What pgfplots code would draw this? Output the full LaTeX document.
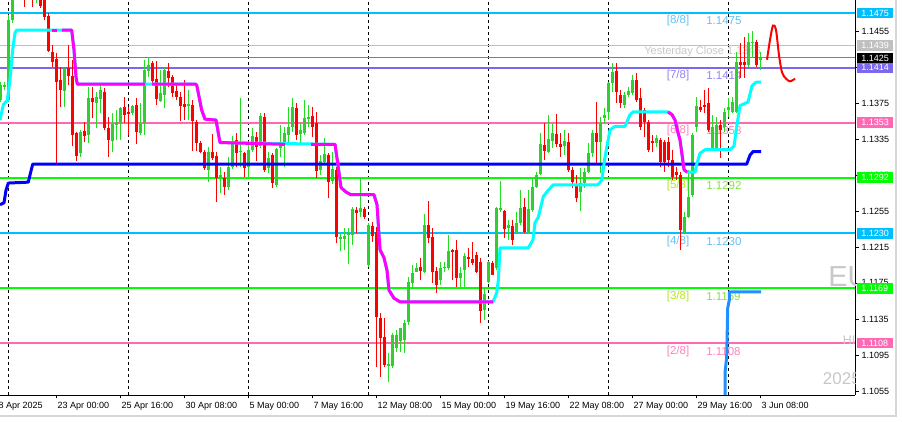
\documentclass[border=0pt]{standalone}
\usepackage{fontspec}
\setmainfont{Liberation Sans}
\usepackage{pgfplots}
\usepackage{pgfplotstable}
\pgfplotsset{compat=1.18}

\definecolor{upbody}{RGB}{50,205,50}
\definecolor{upwick}{RGB}{34,221,34}
\definecolor{dnred}{RGB}{255,0,0}
\definecolor{lvlblue}{RGB}{0,191,255}
\definecolor{lvlpurple}{RGB}{123,104,238}
\definecolor{lvlpink}{RGB}{255,105,180}
\definecolor{lvlgreen}{RGB}{0,255,0}
\definecolor{txtblue}{RGB}{100,195,245}
\definecolor{txtpurple}{RGB}{150,130,240}
\definecolor{txtpink}{RGB}{255,130,190}
\definecolor{txtyg}{RGB}{180,230,30}
\definecolor{txtgreen}{RGB}{130,230,60}
\definecolor{wm}{RGB}{200,200,200}
\definecolor{framegray}{RGB}{215,215,215}
\definecolor{dodger}{RGB}{30,144,255}
\definecolor{aqua}{RGB}{0,255,255}
\definecolor{fuchsia}{RGB}{255,0,255}
\definecolor{trendblue}{RGB}{0,0,255}
\definecolor{silverline}{RGB}{192,192,192}
\definecolor{bidgray}{RGB}{128,128,128}

% H4 bars: k o h l c
\pgfplotstableread{
k o h l c
0 1.1378 1.1398 1.1376 1.1395
1 1.1393 1.1398 1.1389 1.1395
2 1.1378 1.1473 1.1376 1.1467
3 1.1467 1.1523 1.1464 1.1512
4 1.1512 1.1567 1.1506 1.1556
5 1.1545 1.1556 1.1500 1.1517
6 1.1534 1.1550 1.1482 1.1495
7 1.1500 1.1545 1.1495 1.1539
8 1.1523 1.1534 1.1482 1.1495
9 1.1495 1.1528 1.1486 1.1517
10 1.1512 1.1523 1.1481 1.1483
11 1.1500 1.1506 1.1467 1.1470
12 1.1472 1.1475 1.1432 1.1433
13 1.1432 1.1439 1.1415 1.1421
14 1.1424 1.1430 1.1308 1.1398
15 1.1401 1.1415 1.1371 1.1389
16 1.1388 1.1414 1.1371 1.1413
17 1.1414 1.1439 1.1395 1.1405
18 1.1405 1.1423 1.1327 1.1339
19 1.1342 1.1343 1.1311 1.1316
20 1.1319 1.1345 1.1315 1.1343
21 1.1344 1.1354 1.1332 1.1338
22 1.1339 1.1393 1.1331 1.1381
23 1.1381 1.1393 1.1358 1.1376
24 1.1375 1.1387 1.1347 1.1382
25 1.1379 1.1395 1.1364 1.1389
26 1.1387 1.1392 1.1345 1.1347
27 1.1347 1.1359 1.1315 1.1334
28 1.1333 1.1364 1.1321 1.1352
29 1.1351 1.1367 1.1334 1.1354
30 1.1352 1.1371 1.1334 1.1369
31 1.1371 1.1382 1.1353 1.1362
32 1.1365 1.1371 1.1339 1.1363
33 1.1364 1.1373 1.1362 1.1372
34 1.1373 1.1381 1.1329 1.1343
35 1.1342 1.1375 1.1339 1.1352
36 1.1352 1.1423 1.1339 1.1412
37 1.1411 1.1426 1.1404 1.1417
38 1.1419 1.1422 1.1397 1.1399
39 1.1402 1.1422 1.1373 1.1379
40 1.1377 1.1412 1.1376 1.1386
41 1.1384 1.1414 1.1369 1.1412
42 1.1411 1.1419 1.1393 1.1403
43 1.1404 1.1406 1.1382 1.1386
44 1.1388 1.1397 1.1378 1.1382
45 1.1382 1.1387 1.1355 1.1372
46 1.1374 1.1401 1.1356 1.1371
47 1.1372 1.1389 1.1356 1.1374
48 1.1373 1.1378 1.1322 1.1355
49 1.1354 1.1356 1.1322 1.1331
50 1.1331 1.1333 1.1319 1.1321
51 1.1321 1.1323 1.1301 1.1303
52 1.1301 1.1326 1.1287 1.1321
53 1.1321 1.1341 1.1312 1.1314
54 1.1316 1.1321 1.1265 1.1292
55 1.1291 1.1304 1.1275 1.1295
56 1.1292 1.1298 1.1273 1.1282
57 1.1282 1.1315 1.1278 1.1304
58 1.1304 1.1338 1.1302 1.1333
59 1.1334 1.1342 1.1304 1.1319
60 1.1321 1.1381 1.1304 1.1322
61 1.1319 1.1321 1.1293 1.1303
62 1.1304 1.1332 1.1293 1.1323
63 1.1323 1.1347 1.1321 1.1338
64 1.1337 1.1343 1.1311 1.1326
65 1.1327 1.1364 1.1325 1.1361
66 1.1359 1.1364 1.1298 1.1301
67 1.1303 1.1321 1.1297 1.1314
68 1.1317 1.1319 1.1281 1.1286
69 1.1284 1.1325 1.1282 1.1324
70 1.1325 1.1351 1.1315 1.1328
71 1.1328 1.1348 1.1304 1.1342
72 1.1339 1.1371 1.1332 1.1348
73 1.1348 1.1381 1.1343 1.1371
74 1.1369 1.1375 1.1334 1.1339
75 1.1341 1.1353 1.1328 1.1345
76 1.1342 1.1378 1.1339 1.1358
77 1.1357 1.1373 1.1348 1.1359
78 1.1361 1.1371 1.1337 1.1348
79 1.1353 1.1365 1.1292 1.1299
80 1.1301 1.1317 1.1295 1.1311
81 1.1309 1.1336 1.1308 1.1318
82 1.1317 1.1319 1.1269 1.1287
83 1.1288 1.1321 1.1285 1.1302
84 1.1301 1.1304 1.1219 1.1226
85 1.1224 1.1231 1.1211 1.1226
86 1.1224 1.1236 1.1212 1.1227
87 1.1228 1.1236 1.1196 1.1229
88 1.1228 1.1259 1.1217 1.1257
89 1.1256 1.1259 1.1231 1.1253
90 1.1254 1.1293 1.1248 1.1258
91 1.1257 1.1259 1.1246 1.1248
92 1.1195 1.1242 1.1193 1.1239
93 1.1238 1.1243 1.1221 1.1227
94 1.1232 1.1237 1.1082 1.1137
95 1.1136 1.1142 1.1071 1.1114
96 1.1115 1.1136 1.1082 1.1084
97 1.1083 1.1097 1.1065 1.1085
98 1.1083 1.1119 1.1081 1.1117
99 1.1103 1.1123 1.1098 1.1117
100 1.1111 1.1125 1.1098 1.1125
101 1.1112 1.1134 1.1097 1.1131
102 1.1132 1.1182 1.1128 1.1176
103 1.1175 1.1195 1.1168 1.1186
104 1.1187 1.1197 1.1187 1.1192
105 1.1193 1.1203 1.1178 1.1188
106 1.1187 1.1252 1.1186 1.1239
107 1.1239 1.1266 1.1219 1.1225
108 1.1226 1.1236 1.1175 1.1187
109 1.1188 1.1193 1.1164 1.1173
110 1.1178 1.1198 1.1173 1.1192
111 1.1192 1.1198 1.1187 1.1193
112 1.1192 1.1228 1.1189 1.1211
113 1.1212 1.1213 1.1178 1.1209
114 1.1212 1.1223 1.1171 1.1181
115 1.1181 1.1193 1.1171 1.1186
116 1.1189 1.1208 1.1171 1.1205
117 1.1204 1.1214 1.1193 1.1202
118 1.1202 1.1221 1.1195 1.1197
119 1.1206 1.1209 1.1186 1.1187
120 1.1198 1.1203 1.1131 1.1144
121 1.1145 1.1169 1.1134 1.1163
122 1.1176 1.1199 1.1175 1.1198
123 1.1197 1.1199 1.1184 1.1184
124 1.1192 1.1259 1.1189 1.1258
125 1.1256 1.1288 1.1254 1.1258
126 1.1255 1.1256 1.1225 1.1235
127 1.1236 1.1245 1.1223 1.1239
128 1.1238 1.1245 1.1217 1.1223
129 1.1231 1.1254 1.1229 1.1242
130 1.1242 1.1278 1.1239 1.1258
131 1.1259 1.1269 1.1231 1.1232
132 1.1232 1.1278 1.1231 1.1257
133 1.1256 1.1291 1.1254 1.1282
134 1.1282 1.1298 1.1281 1.1295
135 1.1296 1.1342 1.1295 1.1329
136 1.1328 1.1353 1.1312 1.1322
137 1.1321 1.1362 1.1319 1.1335
138 1.1333 1.1353 1.1325 1.1342
139 1.1341 1.1363 1.1326 1.1329
140 1.1329 1.1342 1.1315 1.1326
141 1.1327 1.1345 1.1317 1.1333
142 1.1332 1.1342 1.1298 1.1301
143 1.1301 1.1304 1.1281 1.1287
144 1.1284 1.1295 1.1265 1.1269
145 1.1276 1.1303 1.1255 1.1286
146 1.1286 1.1303 1.1281 1.1298
147 1.1298 1.1331 1.1297 1.1319
148 1.1319 1.1345 1.1315 1.1342
149 1.1342 1.1376 1.1308 1.1332
150 1.1332 1.1359 1.1297 1.1353
151 1.1358 1.1369 1.1353 1.1362
152 1.1365 1.1398 1.1356 1.1397
153 1.1397 1.1419 1.1387 1.1409
154 1.1411 1.1419 1.1375 1.1387
155 1.1384 1.1389 1.1369 1.1375
156 1.1373 1.1387 1.1369 1.1384
157 1.1384 1.1393 1.1382 1.1388
158 1.1386 1.1406 1.1384 1.1401
159 1.1401 1.1408 1.1376 1.1378
160 1.1381 1.1392 1.1345 1.1348
161 1.1367 1.1369 1.1337 1.1354
162 1.1354 1.1356 1.1321 1.1323
163 1.1333 1.1339 1.1321 1.1331
164 1.1331 1.1339 1.1326 1.1336
165 1.1334 1.1336 1.1304 1.1309
166 1.1332 1.1334 1.1298 1.1309
167 1.1332 1.1337 1.1304 1.1312
168 1.1312 1.1323 1.1289 1.1293
169 1.1298 1.1304 1.1289 1.1295
170 1.1295 1.1298 1.1212 1.1234
171 1.1232 1.1254 1.1231 1.1248
172 1.1248 1.1301 1.1247 1.1271
173 1.1273 1.1342 1.1271 1.1339
174 1.1348 1.1382 1.1343 1.1372
175 1.1371 1.1378 1.1365 1.1367
176 1.1373 1.1389 1.1364 1.1371
177 1.1375 1.1392 1.1343 1.1345
178 1.1325 1.1362 1.1323 1.1348
179 1.1323 1.1359 1.1323 1.1351
180 1.1351 1.1356 1.1314 1.1345
181 1.1348 1.1369 1.1343 1.1365
182 1.1367 1.1381 1.1359 1.1371
183 1.1365 1.1382 1.1364 1.1376
184 1.1365 1.1432 1.1364 1.1421
185 1.1421 1.1442 1.1403 1.1417
186 1.1421 1.1448 1.1403 1.1417
187 1.1417 1.1453 1.1415 1.1443
188 1.1442 1.1455 1.1425 1.1443
189 1.1443 1.1445 1.1415 1.1417
190 1.1423 1.1432 1.1412 1.1425
}\bars

\begin{document}
\begin{tikzpicture}
\fill[white] (0pt,0pt) rectangle (902pt,422pt);
\path[use as bounding box] (0pt,0pt) rectangle (902pt,422pt);
\draw[framegray, line width=1.5pt] (896pt,422pt) -- (896pt,6pt) -- (0pt,6pt);
\begin{axis}[
    at={(0pt,27pt)}, anchor=south west,
    scale only axis, width=855pt, height=395pt,
    xmin=-0.125, xmax=213.625,
    ymin=1.10505, ymax=1.14894,
    axis x line=bottom, axis y line=right,
    axis line style={-, black, line width=0.8pt},
    every outer x axis line/.append style={-},
    every outer y axis line/.append style={-},
    tick align=outside, major tick length=3.5pt,
    tick style={black, line width=0.8pt},
    tick label style={font=\fontsize{9}{10}\selectfont},
    xtick={14,30,...,190},
    xticklabels={23 Apr 00:00, 25 Apr 16:00, 30 Apr 08:00, 5 May 00:00,
        7 May 16:00, 12 May 08:00, 15 May 00:00, 19 May 16:00,
        22 May 08:00, 27 May 00:00, 29 May 16:00, 3 Jun 08:00},
    xticklabel style={anchor=north west, inner sep=0pt, xshift=1pt, yshift=-4pt},
    extra x ticks={2,32,...,182},
    extra x tick labels={},
    extra x tick style={grid=major, major tick length=0pt,
        major grid style={black, line width=0.8pt, dash pattern=on 3pt off 3pt}},
    ytick={1.1055,1.1095,1.1135,1.1175,1.1215,1.1255,1.1295,1.1335,1.1375,1.1415,1.1455},
    scaled y ticks=false,
    yticklabel style={anchor=west, inner sep=0pt, xshift=3pt,
        /pgf/number format/.cd, fixed, fixed zerofill, precision=4, assume math mode=true},
]
% level lines
\addplot[lvlblue, line width=2pt] coordinates {(-0.125,1.1475) (213.625,1.1475)};
\addplot[silverline, line width=1pt] coordinates {(-0.125,1.1439) (213.625,1.1439)};
\addplot[bidgray, line width=1pt] coordinates {(-0.125,1.1425) (213.625,1.1425)};
\addplot[lvlpurple, line width=2pt] coordinates {(-0.125,1.1414) (213.625,1.1414)};
\addplot[lvlpink, line width=2pt] coordinates {(-0.125,1.1353) (213.625,1.1353)};
\addplot[lvlgreen, line width=2pt] coordinates {(-0.125,1.1292) (213.625,1.1292)};
\addplot[lvlblue, line width=2pt] coordinates {(-0.125,1.1230) (213.625,1.1230)};
\addplot[lvlgreen, line width=2pt] coordinates {(-0.125,1.1169) (213.625,1.1169)};
\addplot[lvlpink, line width=2pt] coordinates {(-0.125,1.1108) (213.625,1.1108)};

\coordinate (L8) at (axis cs:213.625,1.1475);
\coordinate (LY) at (axis cs:213.625,1.1439);
\coordinate (LB) at (axis cs:213.625,1.1425);
\coordinate (L7) at (axis cs:213.625,1.1414);
\coordinate (L6) at (axis cs:213.625,1.1353);
\coordinate (L5) at (axis cs:213.625,1.1292);
\coordinate (L4) at (axis cs:213.625,1.1230);
\coordinate (L3) at (axis cs:213.625,1.1169);
\coordinate (L2) at (axis cs:213.625,1.1108);
\coordinate (T0) at (axis cs:-2,1.10505);

% level texts and watermarks
\begin{scope}[every node/.style={anchor=west, inner sep=0pt, font=\fontsize{11.5}{12}\selectfont}]
\node[text=txtblue, yshift=-8pt] at (axis cs:166.55,1.1475) {[8/8]};
\node[text=txtblue, yshift=-8pt] at (axis cs:176.4,1.1475) {1.1475};
\node[text=txtpurple, yshift=-8pt] at (axis cs:166.55,1.1414) {[7/8]};
\node[text=txtpurple, yshift=-8pt] at (axis cs:176.4,1.1414) {1.1414};
\node[text=txtpink, yshift=-8pt] at (axis cs:166.55,1.1353) {[6/8]};
\node[text=txtpink, yshift=-8pt] at (axis cs:176.4,1.1353) {1.1353};
\node[text=txtyg, yshift=-8pt] at (axis cs:166.55,1.1292) {[5/8]};
\node[text=txtgreen, yshift=-8pt] at (axis cs:176.4,1.1292) {1.1292};
\node[text=txtblue, yshift=-8pt] at (axis cs:166.55,1.1230) {[4/8]};
\node[text=txtblue, yshift=-8pt] at (axis cs:176.4,1.1230) {1.1230};
\node[text=txtyg, yshift=-8pt] at (axis cs:166.55,1.1169) {[3/8]};
\node[text=txtgreen, yshift=-8pt] at (axis cs:176.4,1.1169) {1.1169};
\node[text=txtpink, yshift=-8pt] at (axis cs:166.55,1.1108) {[2/8]};
\node[text=txtpink, yshift=-8pt] at (axis cs:176.4,1.1108) {1.1108};
\node[text=wm, font=\fontsize{11}{12}\selectfont] at (axis cs:160.9,1.1432) {Yesterday Close 1.1346};
\node[text=wm, font=\fontsize{29}{30}\selectfont] at (axis cs:206.9,1.1180) {EURUSD,H4};
\node[text=wm, font=\fontsize{12.5}{13}\selectfont] at (axis cs:210.55,1.1111) {HIGH};
\node[text=wm, font=\fontsize{17}{18}\selectfont] at (axis cs:205.55,1.1069) {2025.06.03};
\end{scope}

% candles: wicks then bodies
\addplot[draw=none, mark=none, forget plot,
    restrict expr to domain={\thisrow{c}-\thisrow{o}}{0:1},
    error bars/.cd, y dir=plus, y explicit, error mark=none,
    error bar style={line width=1pt, draw=upwick, solid}]
    table[x=k, y=l, y error plus expr=\thisrow{h}-\thisrow{l}] {\bars};
\addplot[draw=none, mark=none, forget plot,
    restrict expr to domain={\thisrow{o}-\thisrow{c}}{0.00001:1},
    error bars/.cd, y dir=plus, y explicit, error mark=none,
    error bar style={line width=1pt, draw=dnred, solid}]
    table[x=k, y=l, y error plus expr=\thisrow{h}-\thisrow{l}] {\bars};
\addplot[draw=none, mark=none, forget plot,
    restrict expr to domain={\thisrow{c}-\thisrow{o}}{0:1},
    error bars/.cd, y dir=plus, y explicit, error mark=none,
    error bar style={line width=3pt, draw=upbody, solid}]
    table[x=k, y=o, y error plus expr={max(\thisrow{c}-\thisrow{o},0.00011)}] {\bars};
\addplot[draw=none, mark=none, forget plot,
    restrict expr to domain={\thisrow{o}-\thisrow{c}}{0.00001:1},
    error bars/.cd, y dir=plus, y explicit, error mark=none,
    error bar style={line width=3pt, draw=dnred, solid}]
    table[x=k, y=c, y error plus expr={max(\thisrow{o}-\thisrow{c},0.00011)}] {\bars};

% blue trend line
\addplot[trendblue, line width=3pt, line join=round] coordinates {
    (-0.125,1.1262) (0.875,1.1264) (1.375,1.1278) (1.95,1.1286) (6.95,1.1287)
    (7.375,1.1295) (8.05,1.1307) (186.55,1.1307) (187.375,1.1317)
    (188.125,1.1321) (190.125,1.1321)};
% aqua line
\addplot[aqua, line width=3pt, line join=round] coordinates {
    (-0.125,1.1356) (0.7,1.1373) (1.7,1.1378) (2.375,1.1401) (3.05,1.1434)
    (3.625,1.1453) (4.05,1.1456) (17.8,1.1456) (18.375,1.1434) (18.875,1.1404)
    (19.2,1.1396) (48.625,1.1396) (49.05,1.1395) (50.3,1.1367) (51.125,1.1357)
    (53.875,1.1356) (54.875,1.1331) (83.625,1.1329) (84.375,1.1306)
    (85.125,1.1281) (86.375,1.1276) (87.625,1.1273) (93.375,1.1273)
    (94.125,1.1262) (94.875,1.1212) (95.875,1.1203) (96.625,1.1189)
    (97.125,1.1167) (98.375,1.1158) (99.875,1.1154) (123.125,1.1154)
    (124.05,1.1164) (124.45,1.1178) (124.875,1.1214) (131.95,1.1214)
    (133.125,1.1223) (133.625,1.1242) (134.45,1.1248) (135.7,1.1271)
    (136.95,1.1278) (138.2,1.1284) (149.375,1.1284) (150.3,1.1289)
    (151.125,1.1315) (152.375,1.1345) (153.625,1.1349) (156.125,1.1349)
    (157.375,1.1362) (158.125,1.1365) (166.875,1.1365) (167.875,1.1362)
    (168.625,1.1356) (169.375,1.1342) (169.875,1.1334) (170.55,1.1312)
    (170.875,1.1301) (171.625,1.1298) (173.625,1.1298) (174.125,1.1308)
    (174.875,1.1319) (176.125,1.1323) (182.375,1.1323) (183.375,1.1327)
    (184.125,1.1351) (184.875,1.1372) (186.875,1.1376) (187.875,1.1394)
    (188.875,1.1398) (190.125,1.1398)};
% fuchsia line
\addplot[fuchsia, line width=3pt, line join=round] coordinates {
    (12.875,1.1456) (14.125,1.1456)};
\addplot[fuchsia, line width=3pt, line join=round] coordinates {
    (15.375,1.1456) (17.8,1.1456) (18.375,1.1434) (18.875,1.1404)
    (19.2,1.1396) (36.125,1.1396)};
\addplot[fuchsia, line width=3pt, line join=round] coordinates {
    (37.875,1.1396) (48.625,1.1396) (49.05,1.1395) (50.3,1.1367)
    (51.125,1.1357) (53.875,1.1356) (54.875,1.1331) (71.125,1.1329)};
\addplot[fuchsia, line width=3pt, line join=round] coordinates {
    (77.625,1.1329) (83.625,1.1329) (84.375,1.1306) (85.125,1.1281)
    (86.375,1.1276) (87.625,1.1273) (93.375,1.1273) (94.125,1.1262)
    (94.875,1.1212) (95.875,1.1203) (96.625,1.1189) (97.125,1.1167)
    (98.375,1.1158) (99.875,1.1154) (123.125,1.1154)};
\addplot[fuchsia, line width=3pt, line join=round] coordinates {
    (166.875,1.1365) (167.875,1.1362) (168.625,1.1356) (169.375,1.1342)
    (169.875,1.1334) (170.55,1.1312) (170.875,1.1301) (171.625,1.1298)};
% dodger blue line
\addplot[dodger, line width=3pt, line join=round] coordinates {
    (181.125,1.1045) (181.125,1.1075) (181.55,1.1093) (181.8,1.1147)
    (182.2,1.1156) (182.2,1.1165) (190.125,1.1165)};
% red projection
\addplot[dnred, line width=2pt, smooth] coordinates {
    (191.625,1.1423) (192.375,1.1445) (193.125,1.1461) (193.875,1.1456)
    (194.625,1.1428) (195.375,1.1409) (196.375,1.1402) (197.375,1.1399)
    (198.625,1.1402)};
\end{axis}

% price boxes on the right scale
\begin{scope}[every node/.style={anchor=west, text=white, inner xsep=4.6pt, inner ysep=0pt,
    minimum height=10.5pt, font=\fontsize{9}{10}\selectfont, xshift=1.5pt}]
\node[fill=lvlblue] at (L8) {1.1475};
\node[fill=silverline] at (LY) {1.1439};
\node[fill=black] at (LB) {1.1425};
\node[fill=lvlpurple] at (L7) {1.1414};
\node[fill=lvlpink] at (L6) {1.1353};
\node[fill=lvlgreen] at (L5) {1.1292};
\node[fill=lvlblue] at (L4) {1.1230};
\node[fill=lvlgreen] at (L3) {1.1169};
\node[fill=lvlpink] at (L2) {1.1108};
\end{scope}
\node[anchor=north west, inner sep=0pt, xshift=1pt, yshift=-7.5pt,
    font=\fontsize{9}{10}\selectfont] at (T0) {18 Apr 2025};
\end{tikzpicture}
\end{document}
